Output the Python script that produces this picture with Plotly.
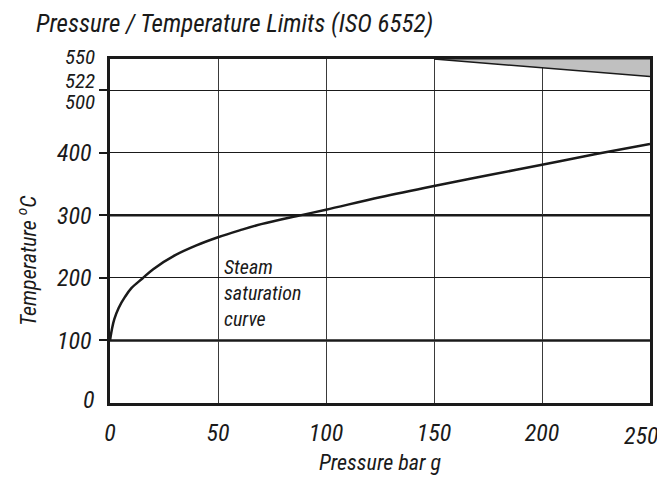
import plotly.graph_objects as go

# Data
pressure = [0, 1, 2, 4, 7, 10, 15, 20, 30, 40, 50, 60, 70, 88, 100, 125, 150, 175, 200, 225, 250]
temperature = [100, 120, 134, 152, 170, 184, 199, 214, 236, 252, 265, 276, 286, 300, 309, 329, 347, 364, 381, 398, 414]
limit_p = [150, 250]
limit_t = [550, 522]
top_t = [550, 550]
x_ticks = [0, 50, 100, 150, 200, 250]
x_ticktext = ["0", "50", "100", "150", "200", ""]
y_ticks = [100, 200, 300, 400, 500]
y_ticktext = ["100", "200", "300", "400", ""]
extra_y_labels = [("0", 0, 3), ("500", 500, -12), ("522", 522, -4), ("550", 550, 2)]
thick_grid = [100, 300]

FONT = "Liberation Sans Narrow, Roboto Condensed, Arial Narrow, Liberation Sans, sans-serif"
INK = "#1a1a1a"

def f(size):
    return dict(family=FONT, size=size, color=INK, style="italic")

fig = go.Figure()

# gray limit region
fig.add_trace(go.Scatter(x=limit_p, y=top_t, mode="lines", line=dict(color=INK, width=1),
                         showlegend=False, hoverinfo="skip"))
fig.add_trace(go.Scatter(x=limit_p, y=limit_t, mode="lines", line=dict(color=INK, width=1.5),
                         fill="tonexty", fillcolor="#c0c0c0", showlegend=False, hoverinfo="skip"))

# thick grid lines
for t in thick_grid:
    fig.add_shape(type="line", xref="paper", x0=0, x1=1, yref="y", y0=t, y1=t,
                  line=dict(color=INK, width=2.5), layer="below")

# saturation curve
fig.add_trace(go.Scatter(x=pressure, y=temperature, mode="lines",
                         line=dict(color=INK, width=2.5, shape="spline"), showlegend=False))

fig.add_annotation(x=52, y=176, xref="x", yref="y", text="Steam<br>saturation<br>curve", showarrow=False,
                   xanchor="left", yanchor="middle", align="left", font=f(20))

for txt, val, shift in extra_y_labels:
    fig.add_annotation(x=0, y=val, xref="paper", yref="y", text=txt, showarrow=False,
                       xanchor="right", yanchor="middle", xshift=-13, yshift=shift,
                       font=f(24 if txt == "0" else 21))

fig.add_annotation(x=250, y=0, xref="x", yref="paper", text="250", showarrow=False,
                   xanchor="center", yanchor="top", xshift=-9, yshift=-17, font=f(24))

fig.add_annotation(x=0, y=0.5, xref="paper", yref="paper", text="Temperature <sup>o</sup>C", showarrow=False,
                   textangle=-90, xanchor="center", yanchor="middle", xshift=-83, yshift=-30, font=f(22))

fig.update_layout(
    width=657, height=467,
    margin=dict(l=102, r=15, t=51, b=72),
    paper_bgcolor="white", plot_bgcolor="white",
    title=dict(text="Pressure / Temperature Limits (ISO 6552)", x=28 / 657, xanchor="left",
               y=1 - 15 / 467, yanchor="middle", font=f(25)),
    xaxis=dict(range=[0, 250], tickvals=x_ticks, ticktext=x_ticktext, showgrid=True, gridcolor="#3a3a3a", gridwidth=1,
               showline=True, linecolor=INK, linewidth=2.5, mirror=True, zeroline=False, automargin=False,
               ticks="", tickfont=f(24), ticklabelstandoff=6,
               title=dict(text="Pressure bar g", font=f(22), standoff=19)),
    yaxis=dict(range=[0, 550], tickvals=y_ticks, ticktext=y_ticktext, showgrid=True, gridcolor=INK, gridwidth=1,
               showline=True, linecolor=INK, linewidth=2.5, mirror=True, zeroline=False, automargin=False,
               ticks="outside", ticklen=8, tickcolor=INK, tickwidth=1.5, ticklabelstandoff=3,
               tickfont=f(24)),
)

fig.write_html("out.html")
